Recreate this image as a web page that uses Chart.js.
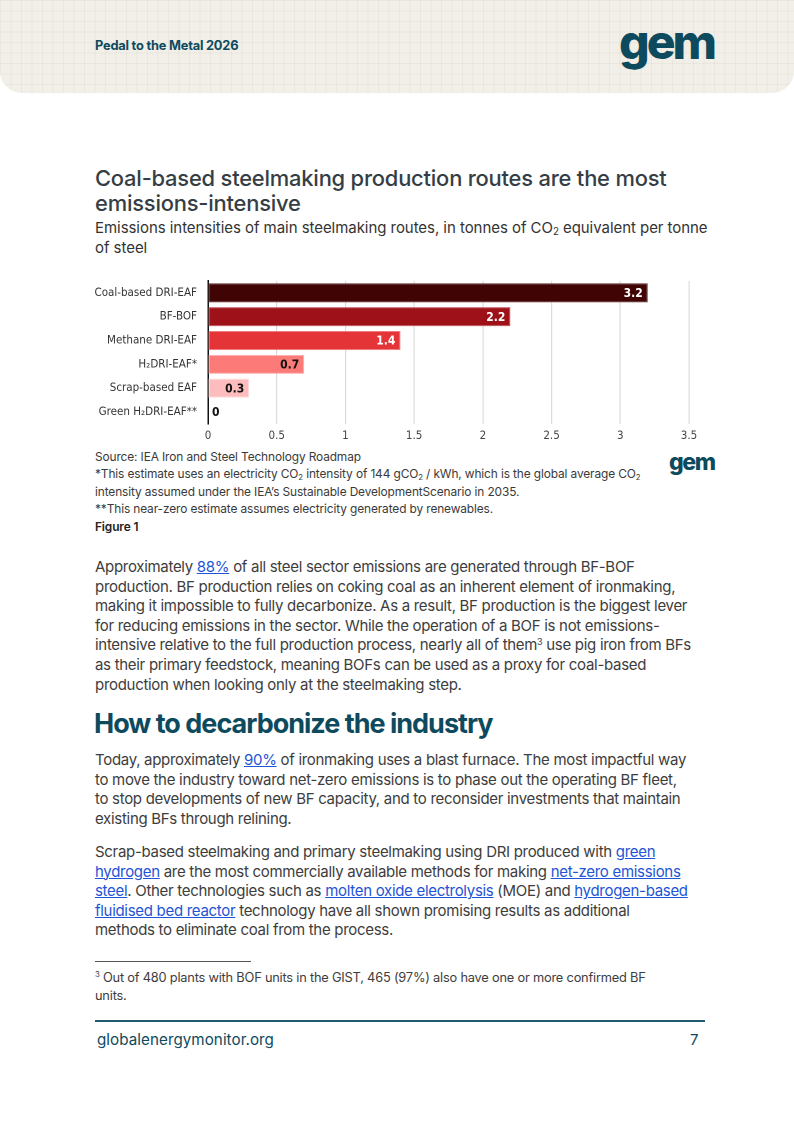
<!DOCTYPE html>
<html>
<head>
<meta charset="utf-8">
<script src="https://cdn.jsdelivr.net/npm/chart.js@4.4.1/dist/chart.umd.min.js"></script>
<style>
  html,body{margin:0;padding:0;background:#fff;}
  body{width:794px;height:1122px;position:relative;overflow:hidden;font-family:Inter,"Noto Sans",sans-serif;color:#3b3b3b;}
  .hdr{position:absolute;left:0;top:0;width:794px;height:93px;background-color:#f1efe8;
    background-image:linear-gradient(rgba(0,0,0,0.035) 1px,transparent 1px),linear-gradient(90deg,rgba(0,0,0,0.035) 1px,transparent 1px);
    background-size:10.5px 10.5px;border-radius:0 0 22px 22px;}
  .hdr .t{position:absolute;left:95px;top:38px;font-size:12.8px;font-weight:700;color:#0e4a5d;letter-spacing:-0.2px;}
  .logo{position:absolute;font-weight:800;color:#0e4a5d;letter-spacing:-3px;line-height:1;}
  .abs{position:absolute;white-space:nowrap;}
  .title{left:95px;top:166px;font-size:21.9px;font-weight:500;color:#353e45;line-height:25px;letter-spacing:-0.2px;}
  .sub{left:95px;top:218px;font-size:15px;color:#333;line-height:20px;letter-spacing:-0.05px;}
  .src{left:95px;top:448px;font-size:11.9px;color:#3a3a3a;line-height:17.4px;letter-spacing:-0.12px;}
  .body{left:95px;font-size:15px;color:#3d3d3d;line-height:19.6px;letter-spacing:-0.3px;}
  a{color:#1e55d6;text-decoration:underline;}
  .h2{left:94px;top:707px;font-size:27px;font-weight:700;color:#0e4a5d;letter-spacing:-1.0px;}
  sub.s{font-size:0.65em;vertical-align:-0.2em;line-height:0;}
  sup.s{font-size:0.6em;vertical-align:0.6em;line-height:0;}
  #wrap{position:absolute;left:90px;top:263px;width:615px;height:183px;}
</style>
</head>
<body>
<div class="hdr"><div class="t">Pedal to the Metal 2026</div></div>
<div class="logo" style="left:619px;top:18px;font-size:48px;">gem</div>

<div class="abs title">Coal-based steelmaking production routes are the most<br>emissions-intensive</div>
<div class="abs sub">Emissions intensities of main steelmaking routes, in tonnes of CO<sub class="s">2</sub> equivalent per tonne<br>of steel</div>

<div id="wrap"><canvas id="c"></canvas></div>

<div class="abs src">Source: IEA Iron and Steel Technology Roadmap<br>*This estimate uses an electricity CO<sub class="s">2</sub> intensity of 144 gCO<sub class="s">2</sub> / kWh, which is the global average CO<sub class="s">2</sub><br>intensity assumed under the IEA’s Sustainable DevelopmentScenario in 2035.<br>**This near-zero estimate assumes electricity generated by renewables.<br><b style="color:#222;font-weight:600">Figure 1</b></div>
<div class="logo" style="left:669px;top:451px;font-size:23px;letter-spacing:-1.4px;">gem</div>

<div class="abs body" style="top:557px;">Approximately <a>88%</a> of all steel sector emissions are generated through BF-BOF<br>production. BF production relies on coking coal as an inherent element of ironmaking,<br>making it impossible to fully decarbonize. As a result, BF production is the biggest lever<br>for reducing emissions in the sector. While the operation of a BOF is not emissions-<br>intensive relative to the full production process, nearly all of them<sup class="s">3</sup> use pig iron from BFs<br>as their primary feedstock, meaning BOFs can be used as a proxy for coal-based<br>production when looking only at the steelmaking step.</div>

<div class="abs h2">How to decarbonize the industry</div>

<div class="abs body" style="top:750px;">Today, approximately <a>90%</a> of ironmaking uses a blast furnace. The most impactful way<br>to move the industry toward net-zero emissions is to phase out the operating BF fleet,<br>to stop developments of new BF capacity, and to reconsider investments that maintain<br>existing BFs through relining.</div>

<div class="abs body" style="top:842px;">Scrap-based steelmaking and primary steelmaking using DRI produced with <a>green</a><br><a>hydrogen</a> are the most commercially available methods for making <a>net-zero emissions</a><br><a>steel</a>. Other technologies such as <a>molten oxide electrolysis</a> (MOE) and <a>hydrogen-based</a><br><a>fluidised bed reactor</a> technology have all shown promising results as additional<br>methods to eliminate coal from the process.</div>

<div class="abs" style="left:95px;top:961px;width:156px;height:1px;background:#555;"></div>
<div class="abs" style="left:95px;top:969px;font-size:12.8px;line-height:17.5px;color:#3d3d3d;letter-spacing:-0.2px;"><sup class="s">3</sup> Out of 480 plants with BOF units in the GIST, 465 (97%) also have one or more confirmed BF<br>units.</div>
<div class="abs" style="left:95px;top:1020px;width:610px;height:1.5px;background:#1f5a6e;"></div>
<div class="abs" style="left:97px;top:1030px;font-size:15.2px;color:#0e4a5d;letter-spacing:0.05px;">globalenergymonitor.org</div>
<div class="abs" style="left:690px;top:1030px;font-size:15px;color:#0e4a5d;">7</div>

<script>
const categories = ['Coal-based DRI-EAF','BF-BOF','Methane DRI-EAF','H\u2082DRI-EAF*','Scrap-based EAF','Green H\u2082DRI-EAF**'];
const values = [3.2, 2.2, 1.4, 0.7, 0.3, 0];
const xTicks = [0, 0.5, 1, 1.5, 2, 2.5, 3, 3.5];
const barColors = ['#410405','#9e1118','#e43437','#fc7a77','#fdbcbd','#fdbcbd'];
const barBorders = ['#6a3a3a','#c05a5f','#f07a7c','#fdb0ae','#fde0e0','#fde0e0'];
const labelColors = ['#ffffff','#ffffff','#ffffff','#111111','#111111','#111111'];

const condensed = '"Liberation Sans Narrow","DejaVu Sans Condensed","Roboto",sans-serif';

const labelPlugin = {
  id:'barLabels',
  afterDatasetsDraw(chart){
    const ctx = chart.ctx;
    const meta = chart.getDatasetMeta(0);
    ctx.save();
    ctx.font = 'bold 12px ' + condensed;
    ctx.textBaseline = 'middle';
    meta.data.forEach((bar,i)=>{
      const txt = String(values[i]);
      const w = ctx.measureText(txt).width;
      const len = bar.x - bar.base;
      ctx.fillStyle = labelColors[i];
      if (len > w + 10) {
        ctx.textAlign = 'right';
        ctx.fillText(txt, bar.x - 5, bar.y + 1);
      } else {
        ctx.textAlign = 'left';
        ctx.fillText(txt, bar.x + 4, bar.y + 1);
      }
    });
    ctx.restore();
  }
};

new Chart(document.getElementById('c'), {
  type:'bar',
  data:{
    labels:categories,
    datasets:[{
      data:values,
      backgroundColor:barColors,
      borderColor:barBorders,
      borderWidth:1,
      borderSkipped:false,
      categoryPercentage:1,
      barPercentage:0.8
    }]
  },
  options:{
    indexAxis:'y',
    responsive:true,
    maintainAspectRatio:false,
    animation:false,
    devicePixelRatio:2,
    layout:{padding:{top:5,right:16,left:0,bottom:0}},
    plugins:{legend:{display:false},tooltip:{enabled:false}},
    scales:{
      x:{
        min:0,max:3.5,
        afterBuildTicks(s){ s.ticks = xTicks.map(v=>({value:v})); },
        afterFit(s){ s.height = 22; },
        grid:{color:'#dcdcdc',lineWidth:1.2,drawTicks:false},
        border:{display:false},
        ticks:{padding:5,color:'#444',font:{size:11.5,family:condensed},callback:(v)=>String(v)}
      },
      y:{
        afterFit(s){ s.width = 118; },
        grid:{display:false,drawTicks:false},
        border:{display:true,color:'#111',width:1.5},
        ticks:{padding:11,color:'#333',font:{size:11.5,family:condensed}}
      }
    }
  },
  plugins:[labelPlugin]
});
</script>
</body>
</html>
